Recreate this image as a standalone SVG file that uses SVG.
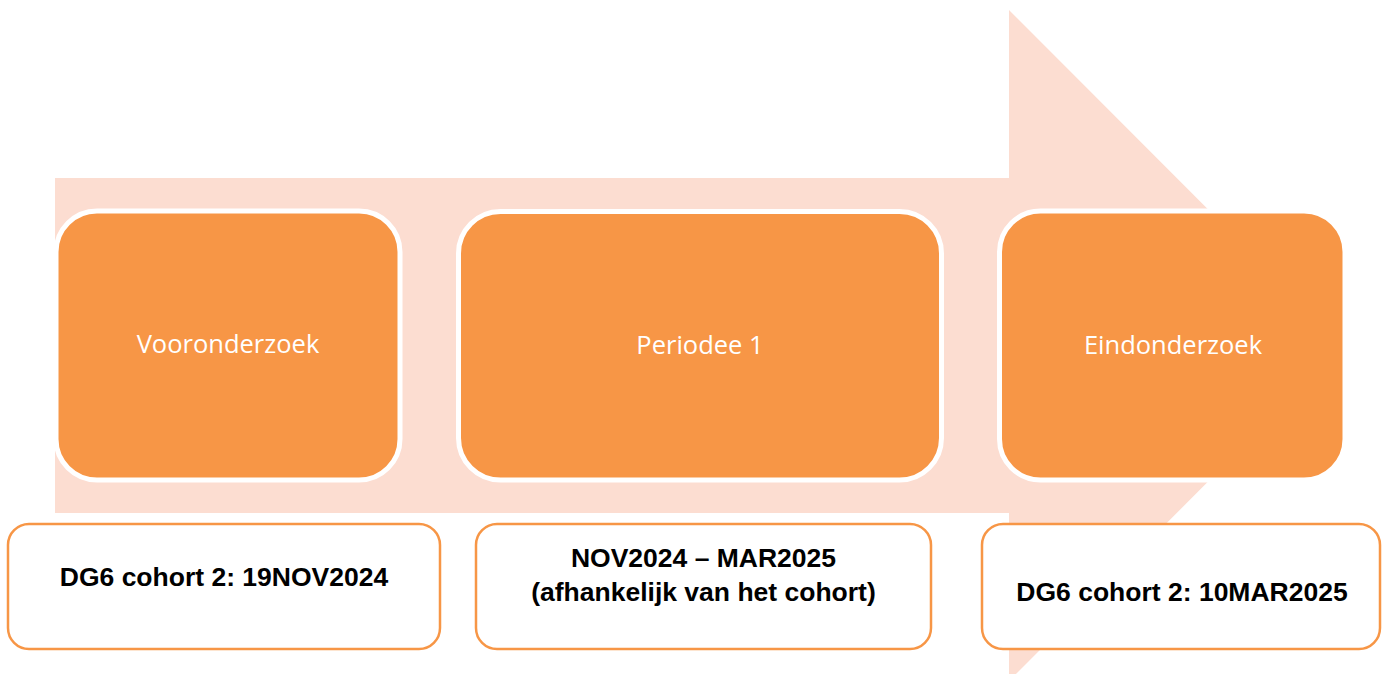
<svg xmlns="http://www.w3.org/2000/svg" width="1389" height="674" viewBox="0 0 1389 674">
<style>
.arrow{fill:#FCDDD1}
.stage{fill:#F79646;stroke:#FFFFFF;stroke-width:5}
.stxt{font-family:"Open Sans","Noto Sans",sans-serif;font-size:25.5px;fill:#FFFFFF;text-anchor:middle}
.date{fill:#FFFFFF;stroke:#F79646;stroke-width:2.5}
.dtxt{font-family:"Liberation Sans",Arial,sans-serif;font-weight:bold;font-size:26.5px;fill:#000000;text-anchor:middle}
</style>
<rect width="1389" height="674" fill="#FFFFFF"/>
<g id="connectors">
<polygon class="arrow" points="55,178 1009,178 1009,10 1344,345.5 1009,681 1009,513 55,513"/>
</g>
<g id="node-vooronderzoek">
<rect class="stage" x="56" y="211" width="344" height="269" rx="41"/>
<text class="stxt" x="228" y="353">Vooronderzoek</text>
</g>
<g id="node-periodee1">
<rect class="stage" x="458.5" y="211.5" width="483" height="268.5" rx="42"/>
<text class="stxt" x="700" y="354">Periodee 1</text>
</g>
<g id="node-eindonderzoek">
<rect class="stage" x="999.5" y="211" width="345.5" height="269" rx="41"/>
<text class="stxt" x="1173" y="354">Eindonderzoek</text>
</g>
<g id="date-1">
<rect class="date" x="8" y="524" width="432" height="125" rx="21"/>
<text class="dtxt" x="224" y="586">DG6 cohort 2: 19NOV2024</text>
</g>
<g id="date-2">
<rect class="date" x="476" y="524" width="455" height="125" rx="21"/>
<text class="dtxt" x="703.5" y="567">NOV2024 – MAR2025</text>
<text class="dtxt" x="703.5" y="601">(afhankelijk van het cohort)</text>
</g>
<g id="date-3">
<rect class="date" x="982" y="524" width="398" height="125" rx="21"/>
<text class="dtxt" x="1182" y="601">DG6 cohort 2: 10MAR2025</text>
</g>
</svg>
